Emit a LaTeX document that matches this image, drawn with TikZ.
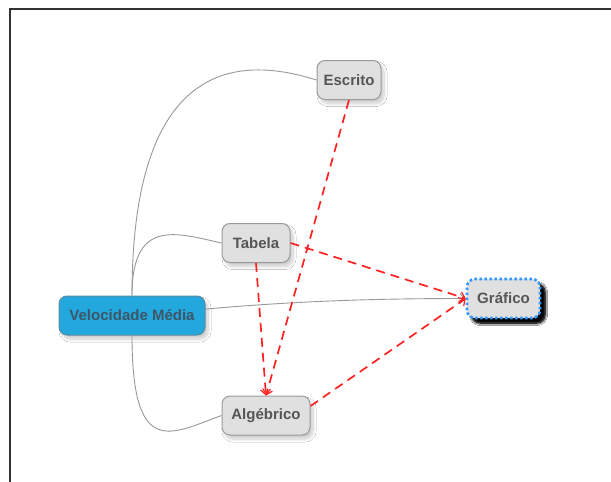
\documentclass[tikz,border=0pt]{standalone}
\usepackage{fontspec}
\setmainfont{Liberation Sans}
\usetikzlibrary{arrows.meta,shadows.blur}
\definecolor{nodefill}{HTML}{E0E0E0}
\definecolor{nodeborder}{HTML}{9A9A9A}
\definecolor{nodetext}{HTML}{555555}
\definecolor{mainfill}{HTML}{22A8DC}
\definecolor{mainborder}{HTML}{5E8CA2}
\definecolor{maintext}{HTML}{3E5668}
\definecolor{selblue}{HTML}{3399FF}
\definecolor{linkgray}{HTML}{999999}
\definecolor{linkred}{HTML}{FF2222}
\definecolor{framegray}{HTML}{333333}
\tikzset{
  box/.style={draw=nodeborder, fill=nodefill, rounded corners=8pt, line width=1pt,
    text=nodetext, font=\fontsize{15}{17}\selectfont\bfseries, inner sep=0pt,
    minimum height=39pt,
    blur shadow={shadow xshift=3pt, shadow yshift=-4pt, shadow blur steps=12, shadow opacity=20, shadow blur radius=3pt}},
  mainbox/.style={box, draw=mainborder, fill=mainfill, text=maintext},
  selbox/.style={box, draw=selblue, line width=2.6pt, dash pattern=on 2.6pt off 2.4pt,
    blur shadow={shadow xshift=5pt, shadow yshift=-5pt, shadow blur steps=6, shadow opacity=95, shadow blur radius=2.5pt}},
  link/.style={draw=linkgray, line width=0.9pt},
  rel/.style={draw=linkred, line width=1.7pt, dash pattern=on 9pt off 6pt, -{Straight Barb[length=5pt,width=10pt,line width=1.2pt]}},
  arrowlink/.style={link, -{Straight Barb[length=5pt,width=10pt,line width=1.1pt]}}
}
\begin{document}
\begin{tikzpicture}[x=1pt,y=-1pt]
\useasboundingbox (0,0) rectangle (611,482);
\fill[white] (0,0) rectangle (611,482);
\draw[framegray, line width=2pt] (10,482) -- (10,8.5) -- (611,8.5);

\node[box, minimum width=64pt] (e) at (349,80) {Escrito};
\node[box, minimum width=68pt] (t) at (256,243) {Tabela};
\node[mainbox, minimum width=146pt] (v) at (132,315.5) {Velocidade Média};
\node[selbox, minimum width=73pt] (g) at (503.5,298.5) {Gráfico};
\node[box, minimum width=88pt] (a) at (266,415.5) {Algébrico};

\draw[link] (v.north) .. controls +(0,-245) and +(-70,-22) .. (e.west);
\draw[link] (v.north) .. controls +(0,-78) and +(-45,-10) .. (t.west);
\draw[link] (v.south) .. controls +(0,125) and +(-50,18) .. (a.west);
\draw[arrowlink] (v.5) .. controls +(90,-8) and +(-90,0) .. (g.west);

\draw[rel] (e.south) -- (a.north);
\draw[rel] (t.south) -- (a.north);
\draw[rel] (t.east) -- (g.west);
\draw[rel] (a.12) -- (g.west);
\end{tikzpicture}
\end{document}
